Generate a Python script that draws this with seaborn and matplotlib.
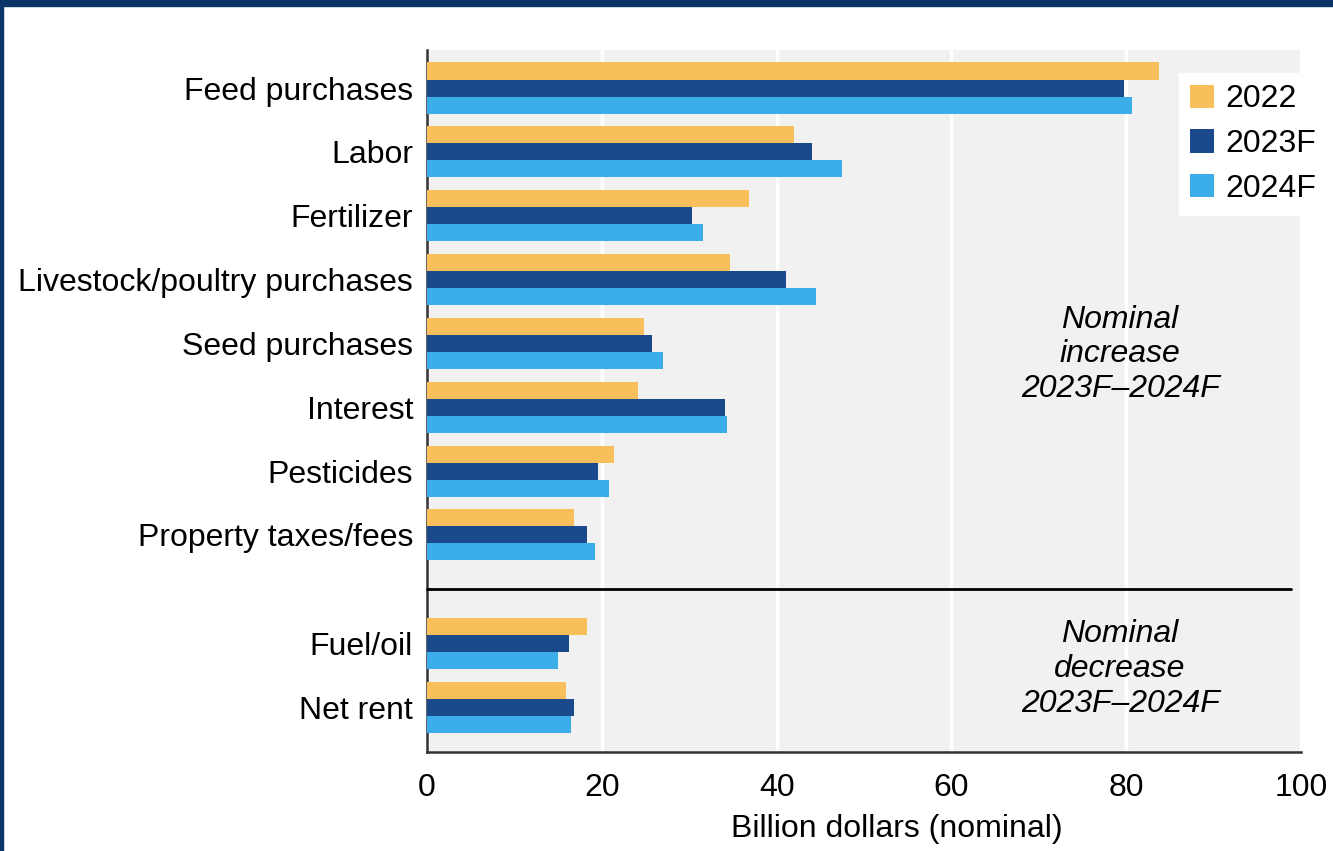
import pandas as pd
import matplotlib.pyplot as plt
import seaborn as sns
from matplotlib.patches import Rectangle

categories = ["Feed purchases", "Labor", "Fertilizer", "Livestock/poultry purchases",
              "Seed purchases", "Interest", "Pesticides", "Property taxes/fees",
              "Fuel/oil", "Net rent"]
v2022 = [83.8, 42.0, 36.8, 34.7, 24.8, 24.1, 21.4, 16.8, 18.3, 15.9]
v2023 = [79.8, 44.0, 30.3, 41.1, 25.7, 34.1, 19.6, 18.3, 16.2, 16.8]
v2024 = [80.7, 47.5, 31.6, 44.5, 27.0, 34.3, 20.8, 19.2, 15.0, 16.5]
years = ["2022", "2023F", "2024F"]
colors = ["#F9BF5A", "#1B4A8C", "#3BAEEA"]

# first 8 rows = nominal increase, last 2 = nominal decrease (extra gap between)
n_up = 8
pos = [i if i < n_up else i + 0.7 for i in range(len(categories))]

rows = []
for vals, yr in zip([v2022, v2023, v2024], years):
    for p, v in zip(pos, vals):
        rows.append({"pos": p, "value": v, "year": yr})
df = pd.DataFrame(rows)

sns.set_style("white", {"axes.facecolor": "#F1F1F1", "text.color": "black",
                        "axes.labelcolor": "black", "xtick.color": "black",
                        "ytick.color": "black"})
plt.rcParams["font.family"] = ["Liberation Sans", "DejaVu Sans"]
fs = 23

fig = plt.figure(figsize=(13.33, 8.51), dpi=100)
ax = fig.add_axes([0.3203, 0.1163, 0.976 - 0.3203, 0.9412 - 0.1163])

sns.barplot(data=df, x="value", y="pos", hue="year", orient="y", native_scale=True,
            palette=colors, hue_order=years, errorbar=None, width=0.8,
            saturation=1, linewidth=0, ax=ax, zorder=3)

ax.set_xlim(0, 100)
ax.set_ylim(10.40, -0.595)
ax.set_xticks([0, 20, 40, 60, 80, 100])
ax.set_yticks(pos)
ax.set_yticklabels(categories)
ax.tick_params(axis="x", labelsize=fs, length=7, width=1.5, color="#333333",
               labelcolor="black", pad=8)
ax.tick_params(axis="y", labelsize=fs, length=0, pad=10, labelcolor="black")
ax.set_xlabel("Billion dollars (nominal)", fontsize=fs, color="black")
ax.xaxis.set_label_coords(0.538, -0.088)
ax.set_ylabel("")

ax.grid(axis="x", color="white", linewidth=2.5, zorder=0)
ax.set_axisbelow(True)
for s in ["top", "right"]:
    ax.spines[s].set_visible(False)
for s in ["left", "bottom"]:
    ax.spines[s].set_color("#333333")
    ax.spines[s].set_linewidth(1.8)

# separator between the two groups
ax.plot([0, 98.9], [7.845, 7.845], color="black", linewidth=2, zorder=4, clip_on=False)

ax.text(79.3, 4.17, "Nominal\nincrease\n2023F\u20132024F", ha="center", va="center",
        fontsize=fs, style="italic", linespacing=1.2, color="black", zorder=5)
ax.text(79.3, 9.1, "Nominal\ndecrease\n2023F\u20132024F", ha="center", va="center",
        fontsize=fs, style="italic", linespacing=1.2, color="black", zorder=5)

leg = ax.legend(loc="upper right", bbox_to_anchor=(1.03, 0.967), borderaxespad=0,
                fontsize=fs, frameon=True, fancybox=False, framealpha=1,
                facecolor="white", edgecolor="white", handlelength=0.75,
                handleheight=0.75, handletextpad=0.35, labelspacing=0.46,
                borderpad=0.35, title=None)
for t in leg.get_texts():
    t.set_color("black")
leg.set_zorder(6)

# navy frame around the figure
fig.patches.append(Rectangle((0, 1 - 6 / 851), 1, 6 / 851, transform=fig.transFigure,
                             color="#0A3466", zorder=10))
fig.patches.append(Rectangle((0, 0), 3 / 1333, 1, transform=fig.transFigure,
                             color="#0A3466", zorder=10))

fig.savefig("out.png", dpi=100)
